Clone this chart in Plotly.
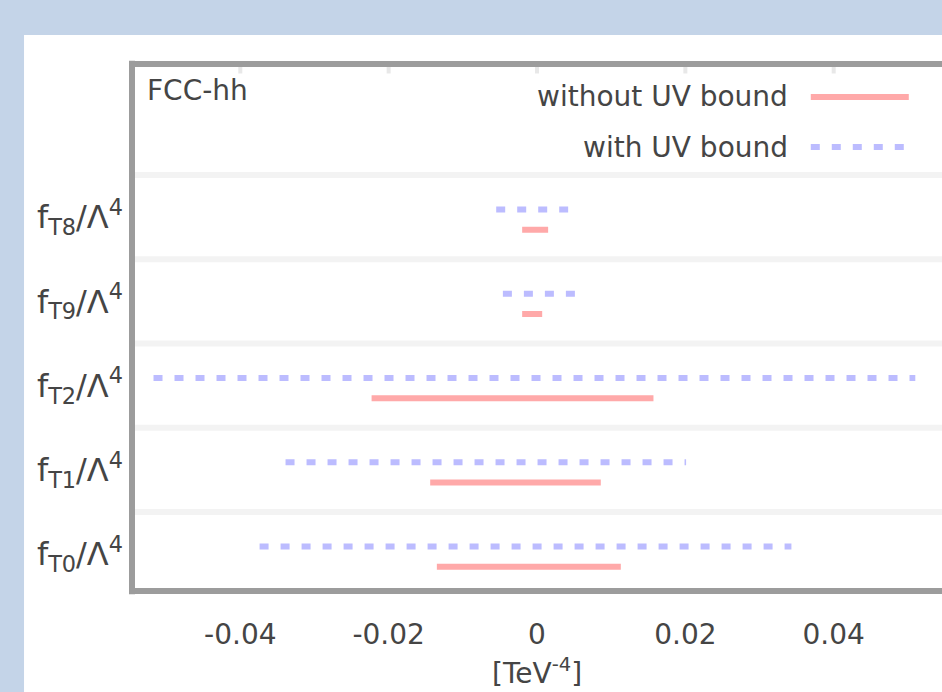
import plotly.graph_objects as go

# ---- data (bottom row first) ----
coef_labels = ["f<sub>T0</sub>/Λ<sup>4</sup>", "f<sub>T1</sub>/Λ<sup>4</sup>",
               "f<sub>T2</sub>/Λ<sup>4</sup>", "f<sub>T9</sub>/Λ<sup>4</sup>",
               "f<sub>T8</sub>/Λ<sup>4</sup>"]
no_uv_lo = [-0.0135, -0.0144, -0.0223, -0.0020, -0.0020]
no_uv_hi = [0.0113, 0.0086, 0.0157, 0.0007, 0.0015]
uv_lo = [-0.0374, -0.0339, -0.0517, -0.0046, -0.0055]
uv_hi = [0.0343, 0.0201, 0.0510, 0.0053, 0.0042]
x_tickvals = [-0.04, -0.02, 0, 0.02, 0.04]
x_ticktext = ["-0.04", "-0.02", "0", "0.02", "0.04"]

RED = "#ffa9a9"
BLUE = "#bcbcff"
FONT = "DejaVu Sans"
TXT = "#454545"
FRAME = "#9c9c9c"

fig = go.Figure()
rows = list(range(len(coef_labels)))
blue_off, red_off = 0.09, -0.15

for i in rows:
    fig.add_trace(go.Scatter(x=[uv_lo[i], uv_hi[i]], y=[i + blue_off] * 2, mode="lines",
                             line=dict(color=BLUE, width=6, dash="9px,12px"),
                             showlegend=False, hoverinfo="skip"))
    fig.add_trace(go.Scatter(x=[no_uv_lo[i], no_uv_hi[i]], y=[i + red_off] * 2, mode="lines",
                             line=dict(color=RED, width=6),
                             showlegend=False, hoverinfo="skip"))

shapes = []
# white panel
shapes.append(dict(type="rect", xref="paper", yref="paper", x0=-0.1333, x1=1.05,
                   y0=-0.3, y1=1.055, fillcolor="white", line=dict(width=0), layer="below"))
# row separators
for i in rows:
    shapes.append(dict(type="line", xref="paper", yref="y", x0=0, x1=1.02,
                       y0=i + 0.5, y1=i + 0.5, line=dict(color="#f3f3f3", width=6), layer="below"))
# top ticks
for v in x_tickvals:
    shapes.append(dict(type="line", xref="x", yref="paper", x0=v, x1=v, y0=1, y1=0.982,
                       line=dict(color="#e8e8e8", width=4)))
# frame (left, top, bottom)
shapes.append(dict(type="line", xref="paper", yref="paper", x0=0, x1=1.02, y0=1, y1=1,
                   line=dict(color=FRAME, width=6)))
shapes.append(dict(type="line", xref="paper", yref="paper", x0=0, x1=1.02, y0=0, y1=0,
                   line=dict(color=FRAME, width=6)))
shapes.append(dict(type="line", xref="paper", yref="paper", x0=0, x1=0, y0=-0.006, y1=1.006,
                   line=dict(color=FRAME, width=6)))
# legend samples
shapes.append(dict(type="line", xref="paper", yref="paper", x0=0.838, x1=0.959,
                   y0=0.9374, y1=0.9374, line=dict(color=RED, width=6)))
shapes.append(dict(type="line", xref="paper", yref="paper", x0=0.838, x1=0.959,
                   y0=0.8425, y1=0.8425, line=dict(color=BLUE, width=6, dash="9px,12px")))

annotations = [
    dict(text="FCC-hh", xref="paper", yref="paper", x=0.016, y=0.9488,
         xanchor="left", yanchor="middle", showarrow=False, font=dict(family=FONT, size=28, color=TXT)),
    dict(text="without UV bound", xref="paper", yref="paper", x=0.812, y=0.9374,
         xanchor="right", yanchor="middle", showarrow=False, font=dict(family=FONT, size=28, color=TXT)),
    dict(text="with UV bound", xref="paper", yref="paper", x=0.812, y=0.8425,
         xanchor="right", yanchor="middle", showarrow=False, font=dict(family=FONT, size=28, color=TXT)),
    dict(text="[TeV<sup>-4</sup>]", xref="x", yref="paper", x=0, y=-0.1917,
         xanchor="center", yanchor="bottom", showarrow=False, font=dict(family=FONT, size=28, color=TXT)),
]

fig.update_layout(
    width=942, height=692,
    margin=dict(l=132, r=0, t=64, b=101),
    paper_bgcolor="#c4d4e8", plot_bgcolor="white",
    shapes=shapes, annotations=annotations,
    xaxis=dict(range=[-0.0546, 0.0546], tickvals=x_tickvals, ticktext=x_ticktext,
               showgrid=False, zeroline=False, showline=False, ticks="",
               ticklabelstandoff=24, tickfont=dict(family=FONT, size=28, color=TXT)),
    yaxis=dict(range=[-0.4377, 5.8175], tickvals=rows, ticktext=coef_labels,
               showgrid=False, zeroline=False, showline=False, ticks="",
               ticklabelstandoff=8, tickfont=dict(family=FONT, size=32, color=TXT)),
)

fig.write_html("out.html", config={"displayModeBar": False},
               post_script="document.body.style.margin='0';"
                           "document.documentElement.style.overflow='hidden';"
                           "document.body.style.overflow='hidden';")
